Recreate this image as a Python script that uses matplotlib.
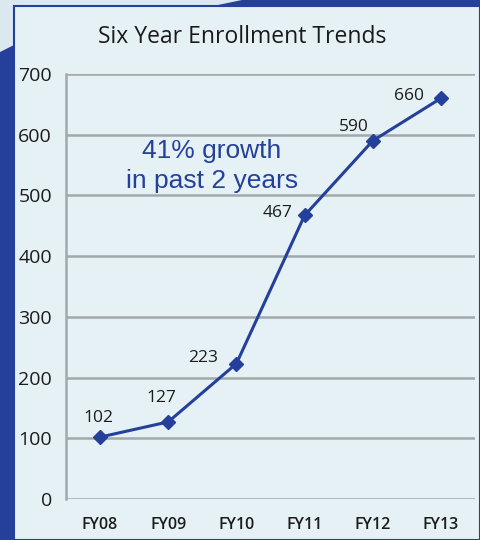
import matplotlib
matplotlib.use("Agg")
import matplotlib.pyplot as plt
from matplotlib.patches import Polygon, Rectangle

# data
years = ["FY08", "FY09", "FY10", "FY11", "FY12", "FY13"]
enrollment = [102, 127, 223, 467, 590, 660]
y_ticks = [0, 100, 200, 300, 400, 500, 600, 700]

# label offsets (points), not data
label_offsets = [(-1.5, 13.5), (-5, 17), (-24, 4), (-19.5, 2), (-13.5, 10), (-23, 1.5)]

BLUE = "#24409a"
PANEL = "#e6f1f5"
OUTER = "#dbe8f0"
GRID = "#a3a8aa"
TXT = "#1c1c1c"

W, H = 480, 540


def fx(px):
    return px / W


def fy(py):
    return 1 - py / H


fig = plt.figure(figsize=(4.8, 5.4), dpi=100)
fig.patch.set_facecolor(OUTER)

# dark blue backdrop and light panel
blue_pts = [(0, 540), (0, 52), (14, 45), (14, 6), (213, 6), (242, 0), (480, 0), (480, 540)]
fig.patches.append(Polygon([(fx(x), fy(y)) for x, y in blue_pts], closed=True,
                           transform=fig.transFigure, facecolor=BLUE, edgecolor="none", zorder=-2))
fig.patches.append(Rectangle((fx(14), 0), 1 - fx(14), fy(6), transform=fig.transFigure,
                             facecolor=PANEL, edgecolor=BLUE, linewidth=1.5, zorder=-1))

ax = fig.add_axes([fx(66), fy(499), fx(475) - fx(66), fy(74) - fy(499)])
ax.set_zorder(5)
ax.set_facecolor("none")

x = list(range(len(years)))
ax.plot(x, enrollment, color=BLUE, linewidth=2.2, marker="D", markersize=7,
        markerfacecolor=BLUE, markeredgecolor=BLUE, zorder=4, clip_on=False)

for xi, val, (dx, dy) in zip(x, enrollment, label_offsets):
    ax.annotate(str(val), (xi, val), xytext=(dx, dy), textcoords="offset points",
                ha="center", va="center", fontsize=12.5, color=TXT, family="Open Sans")

ax.set_xlim(-0.5, 5.5)
ax.set_ylim(0, 700)
ax.set_yticks(y_ticks)
ax.set_xticks(x)
ax.set_xticklabels(years)
ax.yaxis.grid(True, color=GRID, linewidth=1.8, zorder=1)
ax.set_axisbelow(True)

for s in ["top", "right", "bottom"]:
    ax.spines[s].set_visible(False)
ax.spines["left"].set_color(GRID)
ax.spines["left"].set_linewidth(1.8)

ax.tick_params(axis="both", length=0)
ax.tick_params(axis="y", pad=10, labelsize=14, labelcolor=TXT)
ax.tick_params(axis="x", pad=13, labelsize=11.5, labelcolor=TXT)
for lbl in ax.get_xticklabels() + ax.get_yticklabels():
    lbl.set_family("Open Sans")
for lbl in ax.get_xticklabels():
    lbl.set_fontweight("semibold")

ax.text(1.64, 548, "41% growth\nin past 2 years", ha="center", va="center",
        fontsize=19, color=BLUE, family="Liberation Sans", linespacing=1.3)

fig.text(fx(242), fy(37), "Six Year Enrollment Trends", ha="center", va="center",
         fontsize=16.5, color="#1a1a1a", family="Open Sans")

fig.savefig("out.png", dpi=100, facecolor=fig.get_facecolor())
